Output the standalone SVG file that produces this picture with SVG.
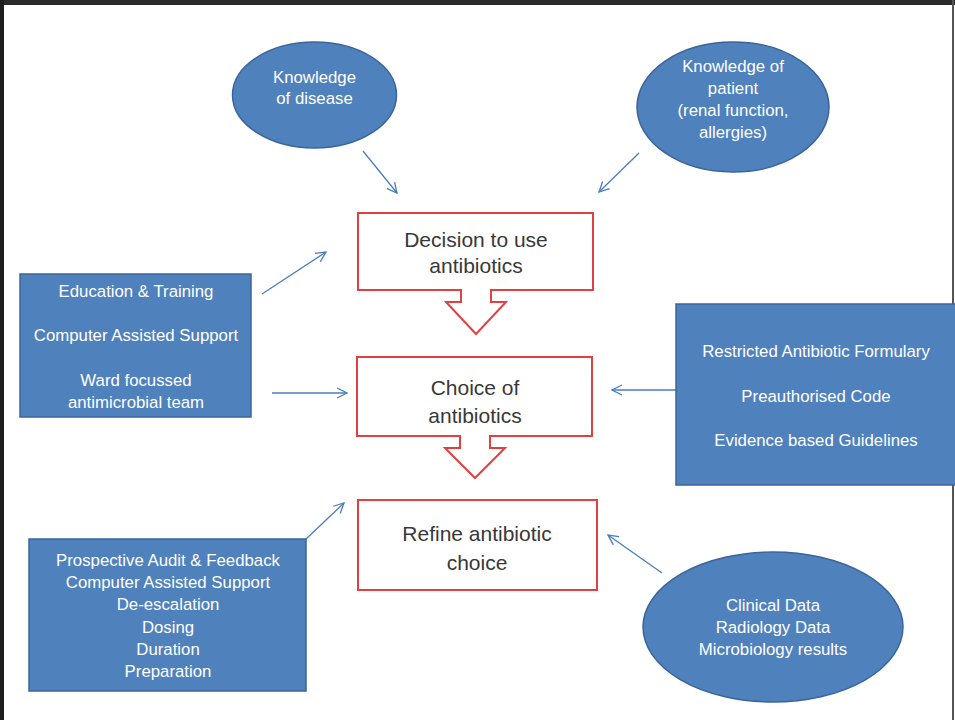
<svg xmlns="http://www.w3.org/2000/svg" width="955" height="720" viewBox="0 0 955 720">
<style>
.blue{fill:#4F81BD;stroke:#3A659A;stroke-width:1.5}
.red{fill:#fff;stroke:#E0403F;stroke-width:2}
.wt{font-family:"Liberation Sans",Arial,sans-serif;font-size:16.8px;fill:#fff;text-anchor:middle}
.dk{font-family:"Liberation Sans",Arial,sans-serif;font-size:21px;fill:#383838;text-anchor:middle}
.conn{stroke:#4A7EBB;stroke-width:1.3;fill:none;marker-end:url(#ah)}
</style>
<defs>
<marker id="ah" viewBox="0 0 12 12" refX="11" refY="6" markerWidth="12" markerHeight="12" markerUnits="userSpaceOnUse" orient="auto">
<path d="M1,1 L11,6 L1,11" fill="none" stroke="#4A7EBB" stroke-width="1.3"/>
</marker>
</defs>
<rect x="0" y="0" width="955" height="720" fill="#fff"/>
<rect x="0" y="0" width="955" height="5" fill="#2a2a2a"/>
<rect x="0" y="0" width="4" height="720" fill="#1e1e1e"/>
<rect x="952" y="0" width="2" height="720" fill="#555"/>

<g id="connectors">
<line class="conn" x1="363" y1="151" x2="397" y2="193"/>
<line class="conn" x1="639" y1="153" x2="599" y2="192"/>
<line class="conn" x1="262" y1="294" x2="326" y2="252"/>
<line class="conn" x1="272" y1="393" x2="347" y2="393"/>
<line class="conn" x1="676" y1="390" x2="612" y2="390"/>
<line class="conn" x1="306" y1="539" x2="344" y2="503"/>
<line class="conn" x1="662" y1="573" x2="608" y2="535"/>
</g>

<g id="knowledge-disease">
<ellipse class="blue" cx="314.5" cy="95" rx="82" ry="53"/>
<text class="wt" x="314.5" y="83">Knowledge</text>
<text class="wt" x="314.5" y="104">of disease</text>
</g>

<g id="knowledge-patient">
<ellipse class="blue" cx="733" cy="107" rx="96" ry="65"/>
<text class="wt" x="733" y="72">Knowledge of</text>
<text class="wt" x="733" y="94">patient</text>
<text class="wt" x="733" y="116">(renal function,</text>
<text class="wt" x="733" y="138">allergies)</text>
</g>

<g id="decision">
<path class="red" d="M358,213 H593 V290 H491 V302 H506 L476,334 L446,302 H461 V290 H358 Z"/>
<text class="dk" x="476" y="247">Decision to use</text>
<text class="dk" x="476" y="273">antibiotics</text>
</g>

<g id="choice">
<path class="red" d="M357,357 H592 V436 H490 V448 H505 L475,478 L445,448 H460 V436 H357 Z"/>
<text class="dk" x="475" y="395">Choice of</text>
<text class="dk" x="475" y="423">antibiotics</text>
</g>

<g id="refine">
<rect class="red" x="358" y="500" width="239" height="90"/>
<text class="dk" x="477" y="541">Refine antibiotic</text>
<text class="dk" x="477" y="570">choice</text>
</g>

<g id="left-box-1">
<rect class="blue" x="20" y="274" width="231" height="143"/>
<text class="wt" x="136" y="297">Education &amp; Training</text>
<text class="wt" x="136" y="341">Computer Assisted Support</text>
<text class="wt" x="136" y="386">Ward focussed</text>
<text class="wt" x="136" y="408">antimicrobial team</text>
</g>

<g id="right-box">
<rect class="blue" x="676" y="304" width="280" height="181"/>
<text class="wt" x="816" y="357">Restricted Antibiotic Formulary</text>
<text class="wt" x="816" y="402">Preauthorised Code</text>
<text class="wt" x="816" y="446">Evidence based Guidelines</text>
</g>

<g id="left-box-2">
<rect class="blue" x="29" y="539" width="277" height="152"/>
<text class="wt" x="168" y="566">Prospective Audit &amp; Feedback</text>
<text class="wt" x="168" y="588">Computer Assisted Support</text>
<text class="wt" x="168" y="610">De-escalation</text>
<text class="wt" x="168" y="633">Dosing</text>
<text class="wt" x="168" y="655">Duration</text>
<text class="wt" x="168" y="677">Preparation</text>
</g>

<g id="data-ellipse">
<ellipse class="blue" cx="773" cy="627" rx="130" ry="75"/>
<text class="wt" x="773" y="611">Clinical Data</text>
<text class="wt" x="773" y="633">Radiology Data</text>
<text class="wt" x="773" y="655">Microbiology results</text>
</g>
</svg>
